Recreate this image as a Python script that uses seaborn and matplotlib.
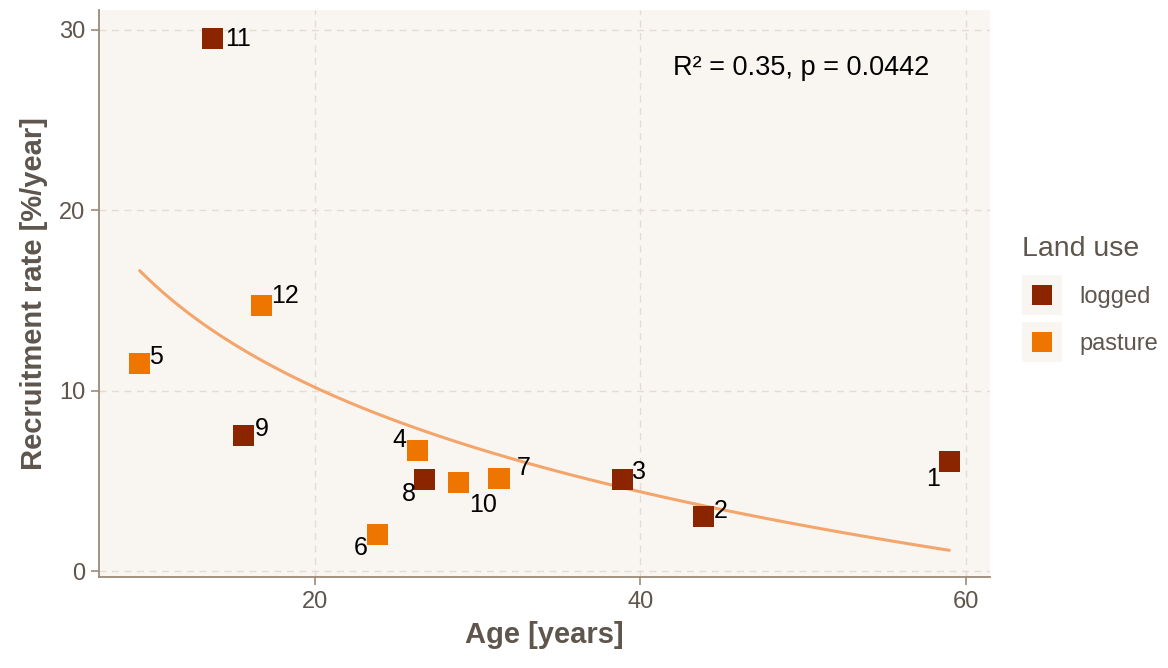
import matplotlib
matplotlib.use("Agg")
import matplotlib.pyplot as plt
import seaborn as sns
import pandas as pd
from matplotlib.lines import Line2D
from matplotlib.legend_handler import HandlerTuple

# Plot data
plot_id = [1, 2, 3, 4, 5, 6, 7, 8, 9, 10, 11, 12]
age = [59.0, 43.9, 38.9, 26.3, 9.2, 23.8, 31.3, 26.7, 15.6, 28.8, 13.7, 16.7]
recruitment = [6.05, 3.0, 5.1, 6.7, 11.5, 2.05, 5.15, 5.1, 7.5, 4.9, 29.5, 14.7]
land_use = ["logged", "logged", "logged", "pasture", "pasture", "pasture",
            "pasture", "logged", "logged", "pasture", "logged", "pasture"]
land_use_levels = ["logged", "pasture"]
stats_label = "R² = 0.35, p = 0.0442"

df = pd.DataFrame({"id": plot_id, "age": age, "rate": recruitment, "land_use": land_use})

colors = {"logged": "#8B2500", "pasture": "#EE7600"}
panel_bg = "#F9F6F2"
axis_col = "#9C8A78"
text_col = "#5E554D"

sns.set_theme(style="white")
plt.rcParams["font.family"] = ["Liberation Sans", "DejaVu Sans"]

fig = plt.figure(figsize=(11.68, 6.68), dpi=100)
ax = fig.add_axes([0.0848, 0.1362, 0.7628, 0.8488])
ax.set_facecolor(panel_bg)

# logarithmic fit of rate against age
sns.regplot(data=df, x="age", y="rate", logx=True, ci=None, scatter=False,
            truncate=True, ax=ax,
            line_kws={"color": "#F4A56C", "lw": 2.2, "zorder": 2})

sns.scatterplot(data=df, x="age", y="rate", hue="land_use", hue_order=land_use_levels,
                palette=colors, marker="s", s=230, linewidth=0, ax=ax,
                legend=False, zorder=3)

# point labels, offsets in points
offsets = {1: (-12, -12), 2: (12, 4), 3: (12, 5), 4: (-13, 7), 5: (12, 5),
           6: (-12, -10), 7: (18, 7), 8: (-11, -11), 9: (13, 5), 10: (18, -16),
           11: (18, 0), 12: (17, 7)}
for pid, x, y in zip(plot_id, age, recruitment):
    dx, dy = offsets[pid]
    ax.annotate(str(pid), (x, y), xytext=(dx, dy), textcoords="offset points",
                ha="center", va="center", fontsize=18, color="black", zorder=4)

ax.text(0.788, 0.898, stats_label, transform=ax.transAxes, ha="center", va="center",
        fontsize=19.5, color="black")

ax.set_xlim(6.7, 61.5)
ax.set_ylim(-0.33, 31.1)
ax.set_xticks([20, 40, 60])
ax.set_yticks([0, 10, 20, 30])

ax.grid(True, color="#E2DCD3", linestyle=(0, (5, 4)), linewidth=1.0)
ax.set_axisbelow(True)
for side in ["top", "right"]:
    ax.spines[side].set_visible(False)
for side in ["left", "bottom"]:
    ax.spines[side].set_color(axis_col)
    ax.spines[side].set_linewidth(1.3)
ax.tick_params(axis="both", which="major", length=6, width=1.2, color=axis_col,
               labelsize=17, labelcolor=text_col, direction="out", pad=4)
ax.tick_params(left=True, bottom=True)

ax.set_xlabel("Age [years]", fontsize=21, fontweight="bold", color=text_col, labelpad=6)
ax.set_ylabel("Recruitment rate [%/year]", fontsize=21, fontweight="bold", color=text_col, labelpad=8)

# legend keys: coloured square on a light key background
handles = []
for k in land_use_levels:
    bg = Line2D([0], [0], marker="s", linestyle="", markersize=29,
                markerfacecolor=panel_bg, markeredgewidth=0)
    fg = Line2D([0], [0], marker="s", linestyle="", markersize=14,
                markerfacecolor=colors[k], markeredgewidth=0)
    handles.append((bg, fg))
leg = fig.legend(handles, land_use_levels, title="Land use", loc="upper left",
                 bbox_to_anchor=(0.865, 0.665), frameon=False, fontsize=17,
                 title_fontsize=20.5, labelspacing=1.05, handletextpad=0.72,
                 borderpad=0.0, handlelength=1.7,
                 handler_map={tuple: HandlerTuple(ndivide=1, pad=0)})
leg._legend_box.align = "left"
leg.get_title().set_color(text_col)
for t in leg.get_texts():
    t.set_color(text_col)

fig.savefig("out.png", dpi=100, facecolor="white")
